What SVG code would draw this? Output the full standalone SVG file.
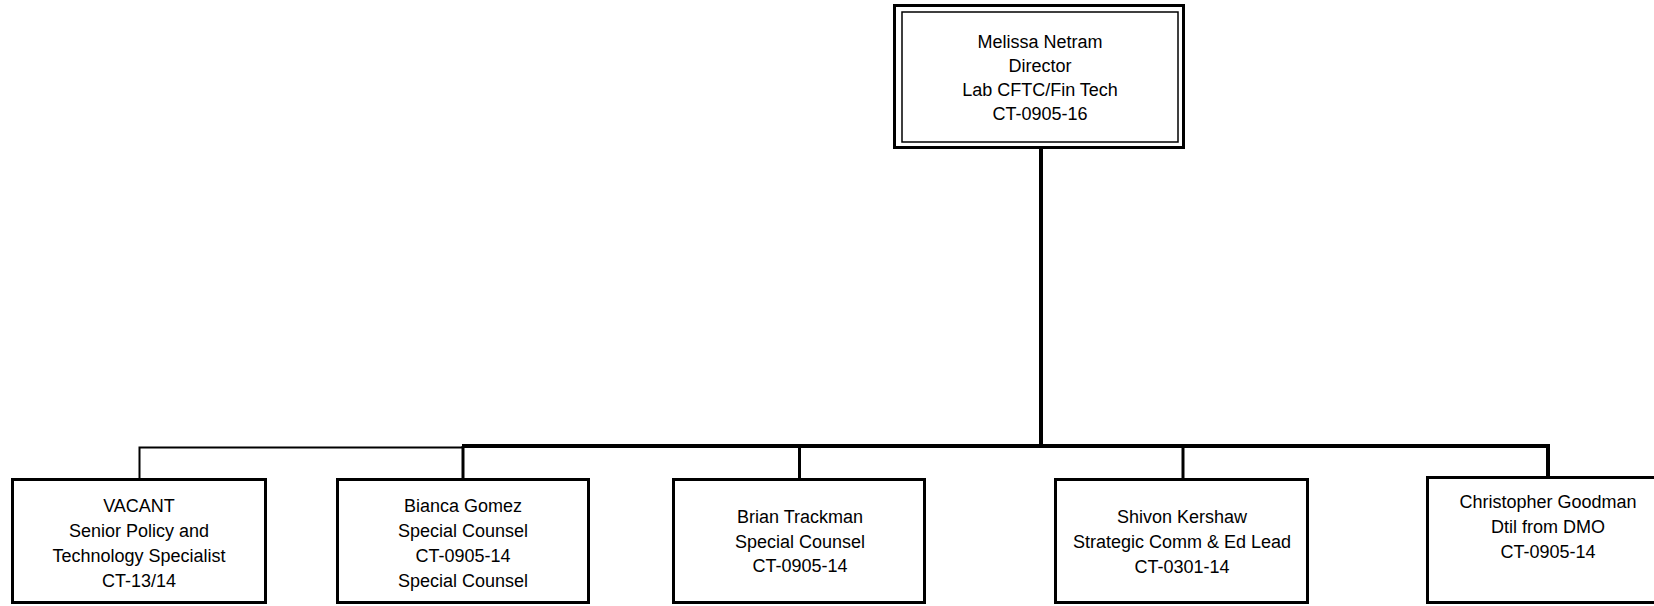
<svg xmlns="http://www.w3.org/2000/svg" width="1654" height="606" viewBox="0 0 1654 606">
<style>
.box{fill:#fff;stroke:#000;stroke-width:3}
.inner{fill:none;stroke:#000;stroke-width:1.5}
.t{font-family:"Liberation Sans",Arial,sans-serif;font-size:18px;fill:#000;text-anchor:middle}
.c{fill:none;stroke:#000;stroke-linejoin:miter}
</style>
<rect width="1654" height="606" fill="#fff"/>
<g id="connectors">
<line class="c" x1="1041" y1="148" x2="1041" y2="446" stroke-width="4"/>
<polyline class="c" points="462,446 1548,446 1548,477" stroke-width="4"/>
<polyline class="c" points="463,447.5 139.5,447.5 139.5,479" stroke-width="2"/>
<line class="c" x1="463" y1="446" x2="463" y2="479" stroke-width="3"/>
<line class="c" x1="799.5" y1="446" x2="799.5" y2="479" stroke-width="3"/>
<line class="c" x1="1183" y1="446" x2="1183" y2="479" stroke-width="3"/>
</g>
<g id="director">
<rect class="box" x="894.5" y="5.5" width="289" height="142"/>
<rect class="inner" x="902" y="12" width="276" height="130"/>
<text class="t" x="1040" y="48">Melissa Netram</text>
<text class="t" x="1040" y="72">Director</text>
<text class="t" x="1040" y="96">Lab CFTC/Fin Tech</text>
<text class="t" x="1040" y="120">CT-0905-16</text>
</g>
<g id="vacant">
<rect class="box" x="12.5" y="479.5" width="253" height="123"/>
<text class="t" x="139" y="512">VACANT</text>
<text class="t" x="139" y="537">Senior Policy and</text>
<text class="t" x="139" y="562">Technology Specialist</text>
<text class="t" x="139" y="587">CT-13/14</text>
</g>
<g id="bianca">
<rect class="box" x="337.5" y="479.5" width="251" height="123"/>
<text class="t" x="463" y="512">Bianca Gomez</text>
<text class="t" x="463" y="537">Special Counsel</text>
<text class="t" x="463" y="562">CT-0905-14</text>
<text class="t" x="463" y="587">Special Counsel</text>
</g>
<g id="brian">
<rect class="box" x="673.5" y="479.5" width="251" height="123"/>
<text class="t" x="800" y="523">Brian Trackman</text>
<text class="t" x="800" y="548">Special Counsel</text>
<text class="t" x="800" y="572">CT-0905-14</text>
</g>
<g id="shivon">
<rect class="box" x="1055.5" y="479.5" width="252" height="123"/>
<text class="t" x="1182" y="523">Shivon Kershaw</text>
<text class="t" x="1182" y="548">Strategic Comm &amp; Ed Lead</text>
<text class="t" x="1182" y="573">CT-0301-14</text>
</g>
<g id="christopher">
<rect class="box" x="1427.5" y="477.5" width="242" height="125"/>
<text class="t" x="1548" y="508">Christopher Goodman</text>
<text class="t" x="1548" y="533">Dtil from DMO</text>
<text class="t" x="1548" y="558">CT-0905-14</text>
</g>
</svg>
